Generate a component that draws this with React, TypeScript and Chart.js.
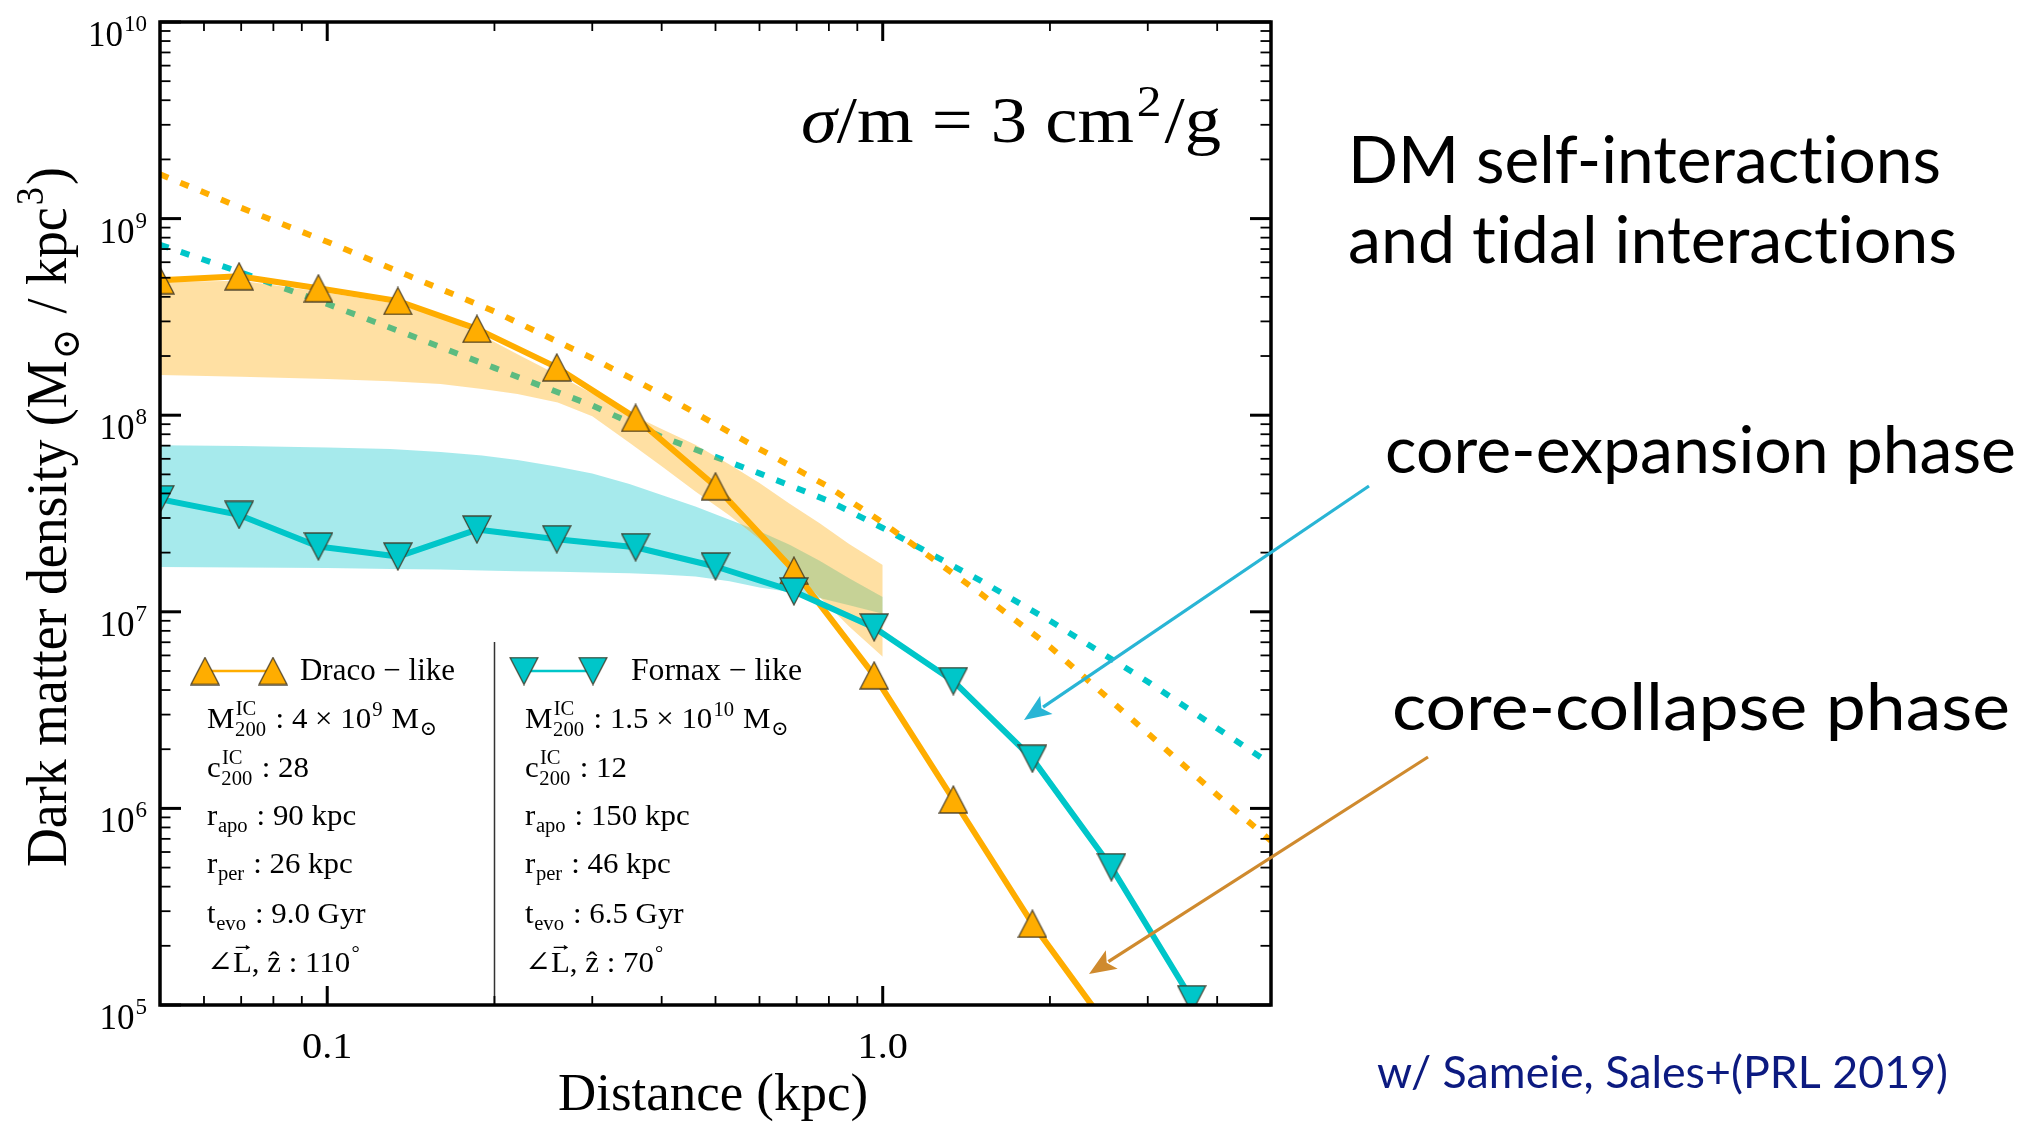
import { useEffect, useRef } from 'react';
import { Chart, registerables } from 'chart.js';

Chart.register(...registerables);

const WIDTH = 2026;
const HEIGHT = 1125;

const SERIF = "'Liberation Serif', 'DejaVu Serif', serif";
const SANS = "Lato, 'Open Sans', sans-serif";

const ORANGE = '#ffad00';
const CYAN = '#00c6c9';
const ORANGE_BAND = 'rgba(255, 168, 0, 0.36)';
const CYAN_BAND = 'rgba(0, 196, 200, 0.35)';

// Radii (kpc) where the simulated profiles are sampled
const simRadius = [0.05, 0.0694, 0.0964, 0.134, 0.186, 0.259, 0.359, 0.5, 0.692, 0.965, 1.34, 1.86, 2.58, 3.6];
// Present-day dark matter density (Msun / kpc^3)
const dracoDensity = [4.86e8, 5.09e8, 4.42e8, 3.81e8, 2.75e8, 1.75e8, 9.69e7, 4.35e7, 1.62e7, 4.75e6, 1.11e6, 2.59e5, 7.3e4];
const fornaxDensity = [3.74e7, 3.11e7, 2.15e7, 1.91e7, 2.62e7, 2.34e7, 2.13e7, 1.7e7, 1.27e7, 8.33e6, 4.44e6, 1.79e6, 5.02e5, 1.07e5];

// Initial NFW halos (dotted)
const nfwRadius = [0.05, 0.07, 0.1, 0.14, 0.2, 0.3, 0.4, 0.6, 0.8, 1.0, 1.5, 2.0, 3.0, 4.0, 5.0];
const dracoNfw = [1.68e9, 1.135e9, 7.62e8, 5.13e8, 3.37e8, 1.95e8, 1.28e8, 6.73e7, 4.32e7, 2.84e7, 1.24e7, 6.64e6, 2.41e6, 1.17e6, 6.84e5];
const fornaxNfw = [7.36e8, 5.32e8, 3.68e8, 2.57e8, 1.74e8, 1.12e8, 7.76e7, 5.06e7, 3.66e7, 2.67e7, 1.44e7, 9.0e6, 4.41e6, 2.56e6, 1.68e6];

// Observational density ranges (shaded)
const bandRadius = [0.05, 0.07, 0.1, 0.13, 0.16, 0.19, 0.22, 0.26, 0.3, 0.35, 0.4, 0.46, 0.53, 0.6, 0.68, 0.77, 0.87, 1.0];
const dracoBandHigh = [4.76e8, 4.83e8, 4.19e8, 3.73e8, 3.16e8, 2.54e8, 2.04e8, 1.6e8, 1.29e8, 1.02e8, 8.51e7, 7.08e7, 5.62e7, 4.52e7, 3.55e7, 2.82e7, 2.21e7, 1.73e7];
const dracoBandLow = [1.6e8, 1.57e8, 1.53e8, 1.49e8, 1.44e8, 1.36e8, 1.28e8, 1.16e8, 9.89e7, 7.24e7, 5.5e7, 4.09e7, 3.09e7, 2.34e7, 1.66e7, 1.19e7, 8.41e6, 5.9e6];
const fornaxBandHigh = [7.03e7, 6.97e7, 6.85e7, 6.73e7, 6.5e7, 6.24e7, 5.92e7, 5.47e7, 5.05e7, 4.47e7, 3.93e7, 3.43e7, 2.94e7, 2.57e7, 2.19e7, 1.82e7, 1.48e7, 1.19e7];
const fornaxBandLow = [1.69e7, 1.68e7, 1.67e7, 1.65e7, 1.64e7, 1.62e7, 1.61e7, 1.6e7, 1.585e7, 1.57e7, 1.55e7, 1.51e7, 1.43e7, 1.33e7, 1.26e7, 1.175e7, 1.08e7, 9.77e6];

// Axis ticks
const xMajorTicks = [0.1, 1];
const xTickLabels = ['0.1', '1.0'];
const xMinorTicks = [0.06, 0.07, 0.08, 0.09, 0.2, 0.3, 0.4, 0.5, 0.6, 0.7, 0.8, 0.9, 2, 3, 4];
const yDecades = [1e5, 1e6, 1e7, 1e8, 1e9, 1e10];
const yExponents = ['5', '6', '7', '8', '9', '10'];
const minorMantissas = [2, 3, 4, 5, 6, 7, 8, 9];
const yMinorTicks = yDecades.slice(0, -1).flatMap((d) => minorMantissas.map((m) => m * d));

// Legend divider sits at this radius
const legendDividerAt = 0.2;

type Seg = [string, string];

const dracoRows: Seg[][] = [
  [['M', 'n'], ['IC|200', 'stack'], [' : 4 × 10', 'n'], ['9', 'sup'], [' M', 'n'], ['⊙', 'sub']],
  [['c', 'n'], ['IC|200', 'stack'], [' : 28', 'n']],
  [['r', 'n'], ['apo', 'sub'], [' : 90 kpc', 'n']],
  [['r', 'n'], ['per', 'sub'], [' : 26 kpc', 'n']],
  [['t', 'n'], ['evo', 'sub'], [' : 9.0 Gyr', 'n']],
  [['∠', 'n'], ['L', 'vec'], [', ẑ : 110', 'n'], ['°', 'sup']],
];
const fornaxRows: Seg[][] = [
  [['M', 'n'], ['IC|200', 'stack'], [' : 1.5 × 10', 'n'], ['10', 'sup'], [' M', 'n'], ['⊙', 'sub']],
  [['c', 'n'], ['IC|200', 'stack'], [' : 12', 'n']],
  [['r', 'n'], ['apo', 'sub'], [' : 150 kpc', 'n']],
  [['r', 'n'], ['per', 'sub'], [' : 46 kpc', 'n']],
  [['t', 'n'], ['evo', 'sub'], [' : 6.5 Gyr', 'n']],
  [['∠', 'n'], ['L', 'vec'], [', ẑ : 70', 'n'], ['°', 'sup']],
];

const crossSectionLabel: Seg[] = [['σ', 'it'], ['/m = 3 cm', 'n'], ['2', 'sup'], ['/g', 'n']];
const yTitle: Seg[] = [['Dark matter density (M', 'n'], ['⊙', 'sub'], [' / kpc', 'n'], ['3', 'sup'], [')', 'n']];
const xTitle: Seg[] = [['Distance (kpc)', 'n']];

// "t" and "i" are set as separate runs so no ligature forms
const headline1: Seg[] = [['DM self-interact', 'n'], ['ions', 'n']];
const headline2: Seg[] = [['and t', 'n'], ['idal interact', 'n'], ['ions', 'n']];

function triangleMarker(fill: string, up: boolean): HTMLCanvasElement {
  const w = 30;
  const h = 29;
  const c = document.createElement('canvas');
  c.width = w;
  c.height = h;
  const g = c.getContext('2d')!;
  g.beginPath();
  if (up) {
    g.moveTo(w / 2, 1);
    g.lineTo(w - 1, h - 1);
    g.lineTo(1, h - 1);
  } else {
    g.moveTo(1, 1);
    g.lineTo(w - 1, 1);
    g.lineTo(w / 2, h - 1);
  }
  g.closePath();
  g.fillStyle = fill;
  g.fill();
  g.lineWidth = 1.3;
  g.strokeStyle = 'rgba(60, 50, 30, 0.85)';
  g.stroke();
  return c;
}

// Lays out a run of text with super/subscripts starting at (0, 0) baseline.
function richRun(ctx: CanvasRenderingContext2D, segs: Seg[], size: number, family: string, draw: boolean): number {
  let cx = 0;
  const norm = `${size}px ${family}`;
  const small = `${Math.round(size * 0.68)}px ${family}`;
  for (const [t, k] of segs) {
    if (k === 'n' || k === 'it' || k === 'vec') {
      ctx.font = (k === 'it' ? 'italic ' : '') + norm;
      const w = ctx.measureText(t).width;
      if (draw) {
        ctx.fillText(t, cx, 0);
        if (k === 'vec') {
          const ay = -size * 0.82;
          const x1 = cx + w * 0.15;
          const x2 = cx + w * 0.85;
          ctx.save();
          ctx.lineWidth = Math.max(1, size * 0.04);
          ctx.beginPath();
          ctx.moveTo(x1, ay);
          ctx.lineTo(x2, ay);
          ctx.moveTo(x2 - size * 0.1, ay - size * 0.06);
          ctx.lineTo(x2, ay);
          ctx.lineTo(x2 - size * 0.1, ay + size * 0.06);
          ctx.strokeStyle = ctx.fillStyle as string;
          ctx.stroke();
          ctx.restore();
        }
      }
      cx += w;
    } else if (k === 'sup') {
      ctx.font = small;
      const w = ctx.measureText(t).width;
      if (draw) ctx.fillText(t, cx + size * 0.04, -size * 0.4);
      cx += w + size * 0.08;
    } else if (k === 'sub') {
      ctx.font = small;
      const w = ctx.measureText(t).width;
      if (draw) ctx.fillText(t, cx + size * 0.02, size * 0.22);
      cx += w + size * 0.06;
    } else if (k === 'stack') {
      const [a, b] = t.split('|');
      ctx.font = small;
      const wa = ctx.measureText(a).width;
      const wb = ctx.measureText(b).width;
      if (draw) {
        ctx.fillText(a, cx + size * 0.04, -size * 0.42);
        ctx.fillText(b, cx + size * 0.02, size * 0.26);
      }
      cx += Math.max(wa, wb) + size * 0.08;
    }
  }
  return cx;
}

function drawRich(
  ctx: CanvasRenderingContext2D,
  segs: Seg[],
  x: number,
  y: number,
  size: number,
  family: string,
  color: string,
  opts: { width?: number; rotate?: boolean; align?: 'left' | 'center'; stretch?: number } = {}
) {
  ctx.save();
  ctx.textBaseline = 'alphabetic';
  ctx.textAlign = 'left';
  ctx.fillStyle = color;
  const natural = richRun(ctx, segs, size, family, false);
  const sx = opts.width ? opts.width / natural : opts.stretch ?? 1;
  ctx.translate(x, y);
  if (opts.rotate) ctx.rotate(-Math.PI / 2);
  ctx.scale(sx, 1);
  if (opts.align === 'center') ctx.translate(-natural / 2, 0);
  richRun(ctx, segs, size, family, true);
  ctx.restore();
}

function drawArrow(ctx: CanvasRenderingContext2D, x0: number, y0: number, x1: number, y1: number, color: string) {
  const ang = Math.atan2(y1 - y0, x1 - x0);
  const headLen = 27;
  const headHalf = 11;
  const bx = x1 - Math.cos(ang) * headLen;
  const by = y1 - Math.sin(ang) * headLen;
  ctx.save();
  ctx.strokeStyle = color;
  ctx.fillStyle = color;
  ctx.lineWidth = 3.2;
  ctx.beginPath();
  ctx.moveTo(x0, y0);
  ctx.lineTo(bx + Math.cos(ang) * 4, by + Math.sin(ang) * 4);
  ctx.stroke();
  ctx.beginPath();
  ctx.moveTo(x1, y1);
  ctx.lineTo(bx - Math.sin(ang) * headHalf, by + Math.cos(ang) * headHalf);
  ctx.lineTo(bx + Math.cos(ang) * 6, by + Math.sin(ang) * 6);
  ctx.lineTo(bx + Math.sin(ang) * headHalf, by - Math.cos(ang) * headHalf);
  ctx.closePath();
  ctx.fill();
  ctx.restore();
}

const upMarker = triangleMarker(ORANGE, true);
const downMarker = triangleMarker(CYAN, false);

const overlayPlugin = {
  id: 'densityOverlay',
  afterDraw(chart: Chart) {
    const ctx = chart.ctx;
    const { left, right, top, bottom } = chart.chartArea;
    const xs = chart.scales.x;
    const ys = chart.scales.y;
    ctx.save();

    // legend divider
    const dx = Math.round(xs.getPixelForValue(legendDividerAt)) + 0.5;
    ctx.strokeStyle = '#333';
    ctx.lineWidth = 1.5;
    ctx.beginPath();
    ctx.moveTo(dx, 642);
    ctx.lineTo(dx, bottom);
    ctx.stroke();

    // inward ticks on all four sides
    ctx.strokeStyle = '#000';
    const seg = (x1: number, y1: number, x2: number, y2: number, w: number) => {
      ctx.lineWidth = w;
      ctx.beginPath();
      ctx.moveTo(x1, y1);
      ctx.lineTo(x2, y2);
      ctx.stroke();
    };
    for (const v of yDecades) {
      const p = ys.getPixelForValue(v);
      seg(left, p, left + 21, p, 3);
      seg(right, p, right - 21, p, 3);
    }
    for (const v of yMinorTicks) {
      const p = ys.getPixelForValue(v);
      seg(left, p, left + 10.5, p, 1.8);
      seg(right, p, right - 10.5, p, 1.8);
    }
    for (const v of xMajorTicks) {
      const p = xs.getPixelForValue(v);
      seg(p, bottom, p, bottom - 19, 3);
      seg(p, top, p, top + 19, 3);
    }
    for (const v of xMinorTicks) {
      const p = xs.getPixelForValue(v);
      seg(p, bottom, p, bottom - 9, 1.8);
      seg(p, top, p, top + 9, 1.8);
    }

    // frame
    ctx.lineWidth = 3.5;
    ctx.strokeRect(left, top, right - left, bottom - top);

    // y tick labels 10^n
    ctx.fillStyle = '#000';
    ctx.textBaseline = 'alphabetic';
    yDecades.forEach((v, i) => {
      const p = ys.getPixelForValue(v);
      ctx.font = `35px ${SERIF}`;
      const wBase = ctx.measureText('10').width;
      ctx.font = `23px ${SERIF}`;
      const wExp = ctx.measureText(yExponents[i]).width;
      const xb = 147 - wExp - wBase - 1;
      ctx.font = `35px ${SERIF}`;
      ctx.fillText('10', xb, p + 24);
      ctx.font = `23px ${SERIF}`;
      ctx.fillText(yExponents[i], xb + wBase + 1, p + 9);
    });

    // x tick labels
    xMajorTicks.forEach((v, i) => {
      drawRich(ctx, [[xTickLabels[i], 'n']], xs.getPixelForValue(v), 1058, 35, SERIF, '#000', { align: 'center', stretch: 1.15 });
    });

    // axis titles
    drawRich(ctx, xTitle, 713, 1110, 52, SERIF, '#000', { width: 310, align: 'center' });
    drawRich(ctx, yTitle, 66, 867, 58, SERIF, '#000', { width: 700, rotate: true });

    // cross-section label
    drawRich(ctx, crossSectionLabel, 801, 142, 66, SERIF, '#000', { width: 420 });

    // legend
    ctx.strokeStyle = ORANGE;
    ctx.lineWidth = 2.5;
    ctx.beginPath();
    ctx.moveTo(205, 671);
    ctx.lineTo(273, 671);
    ctx.stroke();
    ctx.drawImage(upMarker, 205 - upMarker.width / 2, 671 - upMarker.height / 2);
    ctx.drawImage(upMarker, 273 - upMarker.width / 2, 671 - upMarker.height / 2);
    ctx.strokeStyle = CYAN;
    ctx.beginPath();
    ctx.moveTo(524, 671);
    ctx.lineTo(593, 671);
    ctx.stroke();
    ctx.drawImage(downMarker, 524 - downMarker.width / 2, 671 - downMarker.height / 2);
    ctx.drawImage(downMarker, 593 - downMarker.width / 2, 671 - downMarker.height / 2);
    drawRich(ctx, [['Draco − like', 'n']], 300, 680, 31, SERIF, '#000', { width: 155 });
    drawRich(ctx, [['Fornax − like', 'n']], 631, 680, 31, SERIF, '#000', { width: 171 });

    const rowBase = [728, 777, 825, 873, 923, 972];
    dracoRows.forEach((row, i) => drawRich(ctx, row, 207, rowBase[i], 30, SERIF, '#000', { stretch: 1.03 }));
    fornaxRows.forEach((row, i) => drawRich(ctx, row, 525, rowBase[i], 30, SERIF, '#000', { stretch: 1.03 }));

    // annotations to the right of the panel
    drawRich(ctx, headline1, 1348, 183, 66, SANS, '#000', { width: 593 });
    drawRich(ctx, headline2, 1348, 263, 66, SANS, '#000', { width: 609 });
    drawRich(ctx, [['core-expansion phase', 'n']], 1385, 473, 66, SANS, '#000', { width: 631 });
    drawRich(ctx, [['core-collapse phase', 'n']], 1392, 730, 66, SANS, '#000', { width: 618 });
    drawRich(ctx, [['w/ Sameie, Sales+(PRL 2019)', 'n']], 1377, 1088, 44, SANS, '#0c1a80', { width: 571 });

    drawArrow(ctx, 1369, 486, 1024, 720, '#29b5d5');
    drawArrow(ctx, 1428, 757, 1089, 974, '#cf8a2e');

    ctx.restore();
  },
};

const pts = (xs: number[], ys: number[]) => ys.map((y, i) => ({ x: xs[i], y }));

const dotted = (label: string, data: { x: number; y: number }[], color: string) => ({
  label,
  data,
  borderColor: color,
  borderWidth: 6,
  borderDash: [9, 13],
  borderCapStyle: 'butt',
  pointRadius: 0,
  fill: false,
  order: 6,
  clip: 0,
});

const band = (label: string, data: { x: number; y: number }[], fillColor: string | null, order: number) => ({
  label,
  data,
  fill: fillColor ? '+1' : false,
  backgroundColor: fillColor ?? 'transparent',
  borderColor: 'transparent',
  borderWidth: 0,
  pointRadius: 0,
  order,
  clip: 0,
});

export default function App() {
  const canvasRef = useRef<HTMLCanvasElement | null>(null);

  useEffect(() => {
    const canvas = canvasRef.current;
    if (!canvas) return;
    const chart = new Chart(canvas, {
      type: 'line',
      data: {
        datasets: [
          dotted('Draco NFW', pts(nfwRadius, dracoNfw), ORANGE),
          dotted('Fornax NFW', pts(nfwRadius, fornaxNfw), CYAN),
          band('Fornax range', pts(bandRadius, fornaxBandHigh), CYAN_BAND, 5),
          band('Fornax range low', pts(bandRadius, fornaxBandLow), null, 5),
          band('Draco range', pts(bandRadius, dracoBandHigh), ORANGE_BAND, 4),
          band('Draco range low', pts(bandRadius, dracoBandLow), null, 4),
          {
            label: 'Draco-like',
            data: pts(simRadius, dracoDensity),
            borderColor: ORANGE,
            borderWidth: 6,
            borderJoinStyle: 'round',
            pointStyle: upMarker,
            pointRadius: 14,
            fill: false,
            order: 2,
            clip: 0,
          },
          {
            label: 'Fornax-like',
            data: pts(simRadius, fornaxDensity),
            borderColor: CYAN,
            borderWidth: 6,
            borderJoinStyle: 'round',
            pointStyle: downMarker,
            pointRadius: 14,
            fill: false,
            order: 1,
            clip: 0,
          },
        ],
      },
      options: {
        responsive: false,
        maintainAspectRatio: false,
        devicePixelRatio: 1,
        animation: false,
        events: [],
        layout: { padding: { left: 160, top: 22, right: WIDTH - 1271, bottom: HEIGHT - 1005 } },
        scales: {
          x: { type: 'logarithmic', min: 0.05, max: 5, display: false },
          y: { type: 'logarithmic', min: 1e5, max: 1e10, display: false },
        },
        plugins: {
          legend: { display: false },
          tooltip: { enabled: false },
        },
      },
      plugins: [overlayPlugin],
    } as any);
    return () => chart.destroy();
  }, []);

  return (
    <div style={{ position: 'absolute', left: 0, top: 0, width: WIDTH, height: HEIGHT, background: '#fff' }}>
      <canvas ref={canvasRef} width={WIDTH} height={HEIGHT} style={{ width: WIDTH, height: HEIGHT, display: 'block' }} />
    </div>
  );
}
